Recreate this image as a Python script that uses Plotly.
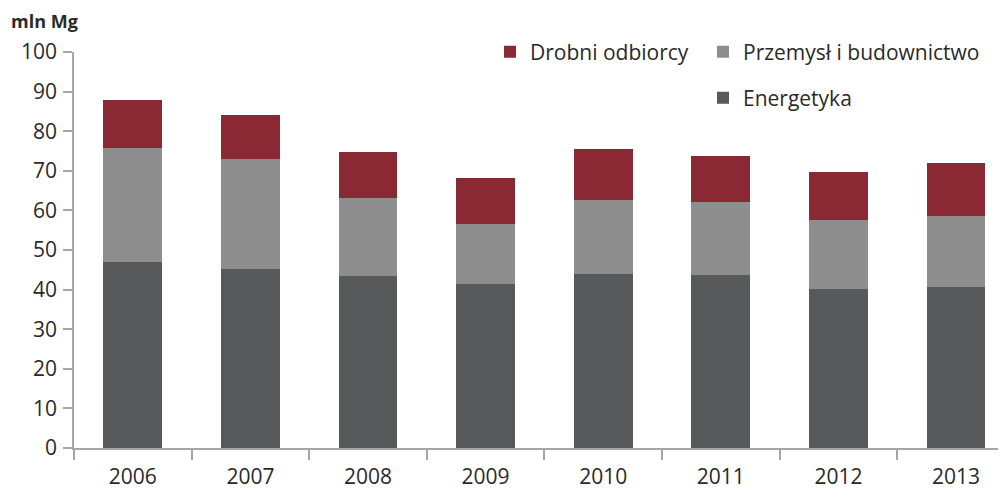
import plotly.graph_objects as go

years = ["2006", "2007", "2008", "2009", "2010", "2011", "2012", "2013"]
energetyka = [47.0, 45.2, 43.4, 41.4, 43.9, 43.7, 40.2, 40.7]
przemysl = [28.8, 27.8, 19.7, 15.2, 18.7, 18.4, 17.4, 17.9]
drobni = [12.1, 11.1, 11.6, 11.6, 12.9, 11.6, 12.1, 13.4]

c_dark = "#58595b"
c_gray = "#8e8e8e"
c_red = "#8a2934"
FONT = "Open Sans"
TXT = "#2a2a2a"

fig = go.Figure()
fig.add_trace(go.Bar(x=years, y=energetyka, name="Energetyka", marker_color=c_dark,
                     marker_line_width=0, width=0.5, legend="legend3"))
fig.add_trace(go.Bar(x=years, y=przemysl, name="Przemysł i budownictwo", marker_color=c_gray,
                     marker_line_width=0, width=0.5, legend="legend2"))
fig.add_trace(go.Bar(x=years, y=drobni, name="Drobni odbiorcy", marker_color=c_red,
                     marker_line_width=0, width=0.5, legend="legend"))

# page has an 8px body margin; compensate so the chart lands where intended
OFF = 8
W, H = 1006 - OFF, 490 - OFF
L, T, B = 74 - OFF, 52 - OFF, 42
PW, PH = W - L, H - T - B

def px_x(px):
    return (px - OFF - L) / PW

def px_y(py):
    return (H - B - (py - OFF)) / PH

leg_common = dict(xref="paper", yref="paper", xanchor="left", yanchor="middle",
                  font=dict(family=FONT, size=21, color=TXT), bgcolor="rgba(0,0,0,0)",
                  itemwidth=30, borderwidth=0)

fig.update_layout(
    width=W, height=H,
    barmode="stack",
    plot_bgcolor="white", paper_bgcolor="white",
    margin=dict(l=L, r=0, t=T, b=B, autoexpand=False),
    font=dict(family=FONT, size=21, color=TXT),
    showlegend=True,
    legend=dict(x=px_x(490), y=px_y(52), **leg_common),
    legend2=dict(x=px_x(703), y=px_y(52), **leg_common),
    legend3=dict(x=px_x(703), y=px_y(98), **leg_common),
    xaxis=dict(
        type="category", range=[-0.5, 7.425], tickson="boundaries",
        ticks="outside", ticklen=10, tickcolor="#a6a6a6", tickwidth=1.5,
        showline=True, linecolor="#a6a6a6", linewidth=1.5, ticklabelstandoff=9,
        showgrid=False, tickfont=dict(family=FONT, size=21, color=TXT),
    ),
    yaxis=dict(
        range=[0, 100], tickvals=list(range(0, 101, 10)),
        ticks="outside", ticklen=9, tickcolor="#a6a6a6", tickwidth=1.5,
        showline=True, linecolor="#a6a6a6", linewidth=1.5,
        showgrid=False, zeroline=False, ticklabelstandoff=2,
        tickfont=dict(family=FONT, size=21, color=TXT),
    ),
    annotations=[dict(text="<b>mln Mg</b>", xref="paper", yref="paper",
                      x=px_x(9), y=px_y(21), xanchor="left", yanchor="middle",
                      showarrow=False, font=dict(family=FONT, size=18, color=TXT))],
)

fig.write_html("out.html")
